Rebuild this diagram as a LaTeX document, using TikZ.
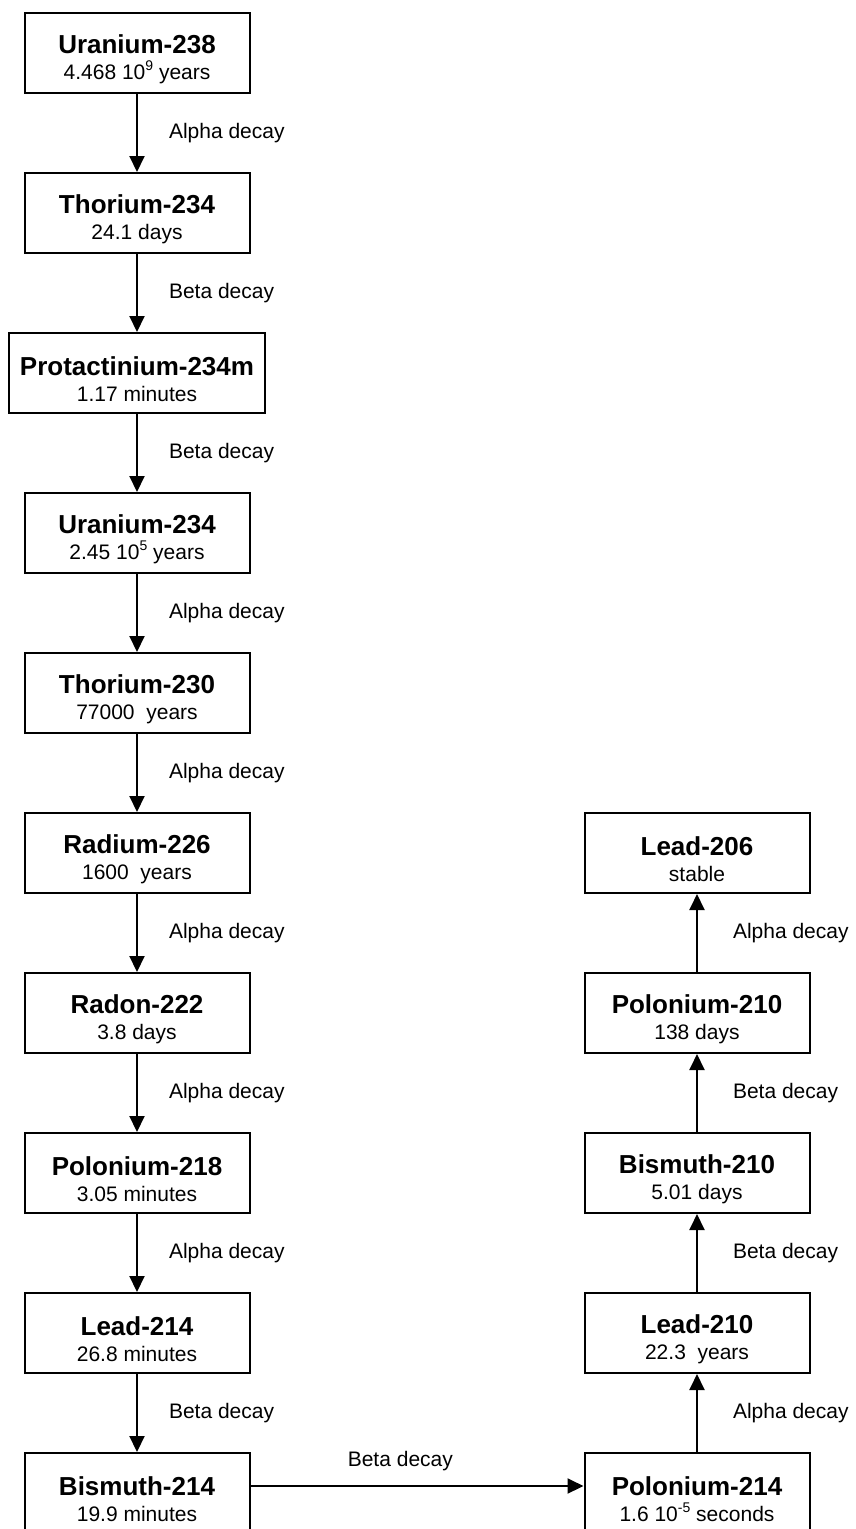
\documentclass[tikz,border=0pt]{standalone}
\usepackage{fontspec}
\setmainfont{Liberation Sans}
\usetikzlibrary{positioning,arrows.meta}

\tikzset{
  nuclide/.style={draw, line width=2pt, minimum width=225pt, minimum height=80pt,
    align=center, inner xsep=11pt, font=\fontsize{21}{26}\selectfont},
  decay/.style={line width=2pt, -{Triangle[length=16pt,width=15pt]}},
  lbl/.style={font=\fontsize{21}{25}\selectfont, inner sep=0pt}
}
\newcommand{\nuc}[2]{{\fontsize{26}{26}\selectfont\bfseries\rule{0pt}{31pt}#1}\\#2}
\newcommand{\pw}[1]{\raisebox{0.42em}{\fontsize{14}{14}\selectfont #1}}

\begin{document}
\begin{tikzpicture}[node distance=78pt]
      \useasboundingbox (0,0) rectangle (856pt,-1529pt);
      % uranium series, left column
      \node[nuclide] at (137pt,-53pt) (u238){\nuc{Uranium-238}{4.468 10\pw{9} years}};
      \node[nuclide, below=of u238] (th234){\nuc{Thorium-234}{24.1 days}};
      \node[nuclide, below=of th234] (pa234){\nuc{Protactinium-234m}{1.17 minutes}};
      \node[nuclide, below=of pa234] (u234){\nuc{Uranium-234}{2.45 10\pw{5} years}};
      \node[nuclide, below=of u234] (th230){\nuc{Thorium-230}{77000\ \ years}};
      \node[nuclide, below=of th230] (ra226){\nuc{Radium-226}{1600\ \ years}};
      \node[nuclide, below=of ra226] (rn222){\nuc{Radon-222}{3.8 days}};
      \node[nuclide, below=of rn222] (po218){\nuc{Polonium-218}{3.05 minutes}};
      \node[nuclide, below=of po218] (pb214){\nuc{Lead-214}{26.8 minutes}};
      \node[nuclide, below=of pb214] (bi214){\nuc{Bismuth-214}{19.9 minutes}};
      % right column, going up
      \node[nuclide] at (697pt,-853pt) (pb206){\nuc{Lead-206}{stable}};
      \node[nuclide, below=of pb206] (po210){\nuc{Polonium-210}{138 days}};
      \node[nuclide, below=of po210] (bi210){\nuc{Bismuth-210}{5.01 days}};
      \node[nuclide, below=of bi210] (pb210){\nuc{Lead-210}{22.3\ \ years}};
      \node[nuclide, below=of pb210] (po214){\nuc{Polonium-214}{1.6 10\pw{-5} seconds}};
      %
      \draw[decay] (u238) -- node[lbl, midway, right=31pt]{Alpha decay} (th234);
      \draw[decay] (th234) -- node[lbl, midway, right=31pt]{Beta decay} (pa234);
      \draw[decay] (pa234) -- node[lbl, midway, right=31pt]{Beta decay} (u234);
      \draw[decay] (u234) -- node[lbl, midway, right=31pt]{Alpha decay} (th230);
      \draw[decay] (th230) -- node[lbl, midway, right=31pt]{Alpha decay} (ra226);
      \draw[decay] (ra226) -- node[lbl, midway, right=31pt]{Alpha decay} (rn222);
      \draw[decay] (rn222) -- node[lbl, midway, right=31pt]{Alpha decay} (po218);
      \draw[decay] (po218) -- node[lbl, midway, right=31pt]{Alpha decay} (pb214);
      \draw[decay] (pb214) -- node[lbl, midway, right=31pt]{Beta decay} (bi214);
      \draw[decay] ([yshift=7pt]bi214.east) -- node[lbl, pos=0.45, above=14pt]{Beta decay} ([yshift=7pt]po214.west);
      \draw[decay] (po214) -- node[lbl, midway, right=35pt]{Alpha decay} (pb210);
      \draw[decay] (pb210) -- node[lbl, midway, right=35pt]{Beta decay} (bi210);
      \draw[decay] (bi210) -- node[lbl, midway, right=35pt]{Beta decay} (po210);
      \draw[decay] (po210) -- node[lbl, midway, right=35pt]{Alpha decay} (pb206);
\end{tikzpicture}
\end{document}
